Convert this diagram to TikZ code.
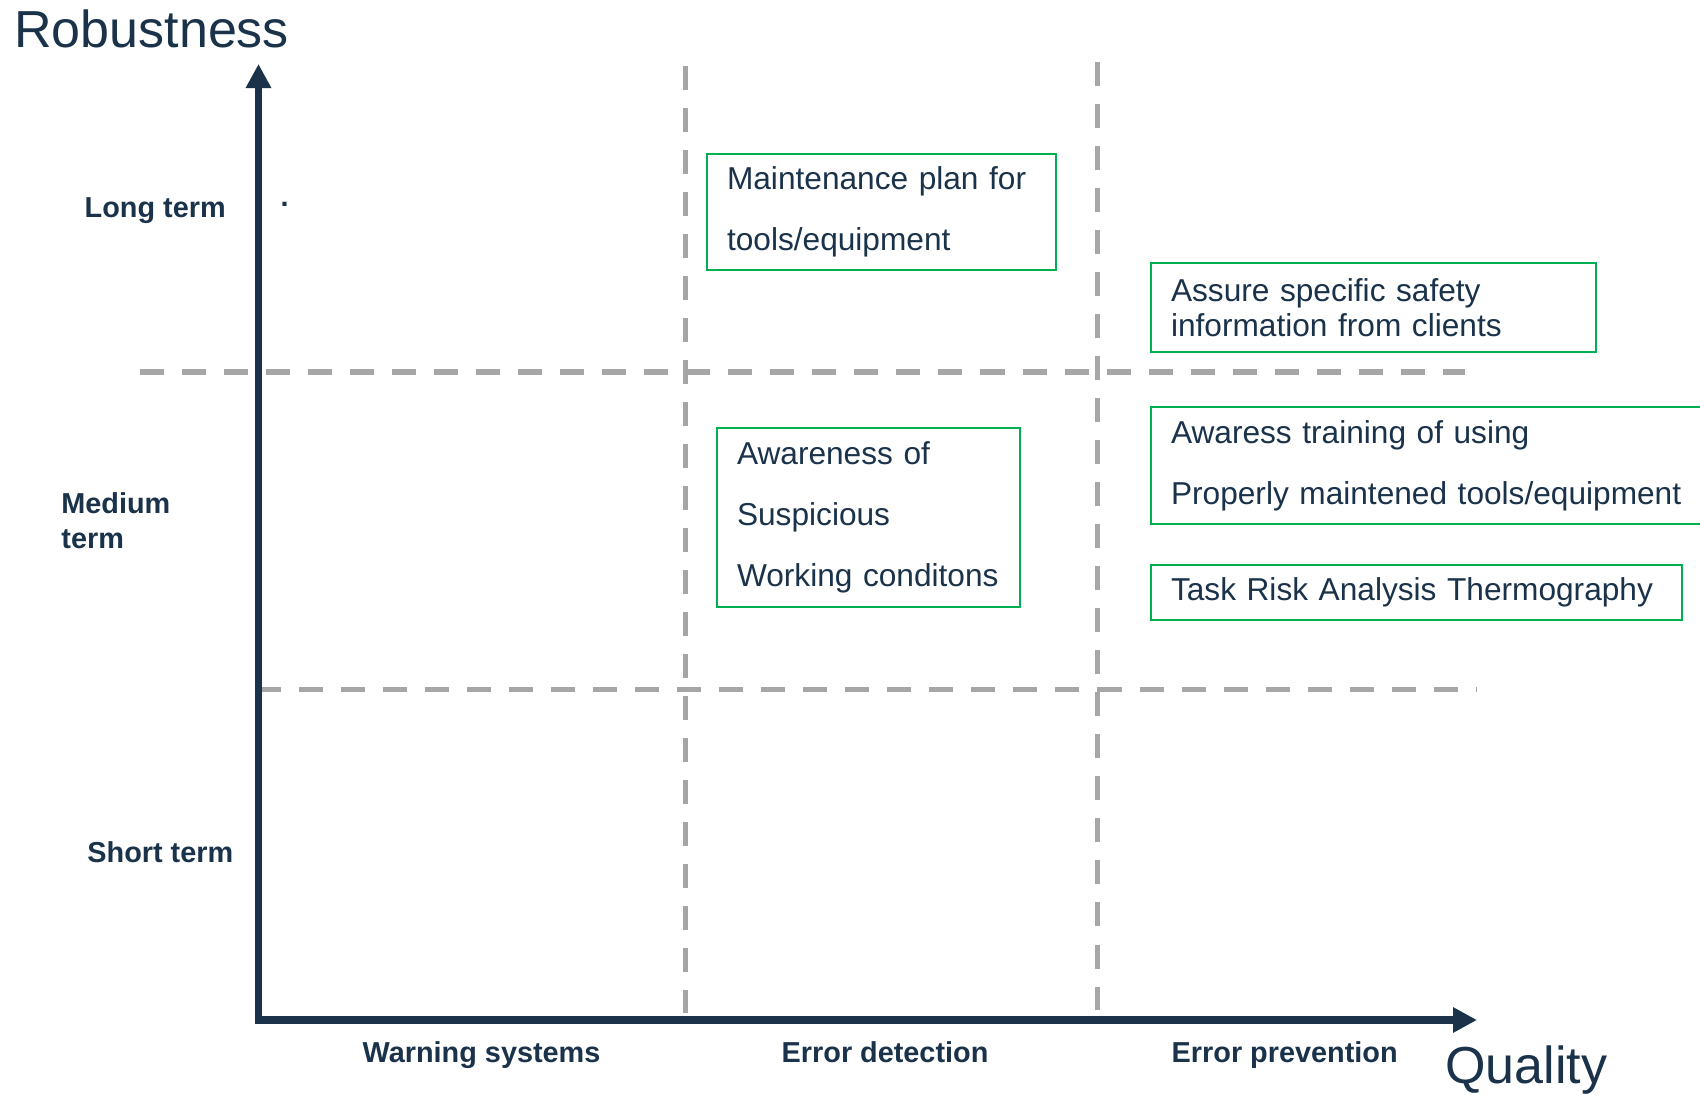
\documentclass[tikz,border=0pt]{standalone}
\usepackage{fontspec}
\setmainfont{Liberation Sans}
\usepackage{tikz}
\usepackage{xcolor}
\usetikzlibrary{arrows.meta, positioning, calc}

\definecolor{navy}{HTML}{1A324A}
\definecolor{boxgreen}{HTML}{00B050}
\definecolor{gridgray}{HTML}{A6A6A6}

\begin{document}
\begin{tikzpicture}[x=0.01cm, y=-0.01cm,
    axis/.style={navy, line width=0.075cm, line join=miter,
        {Triangle[length=0.24cm, width=0.24cm]}-{Triangle[length=0.24cm, width=0.24cm]}},
    gridline/.style={gridgray, line width=0.055cm, dash pattern=on 0.24cm off 0.18cm},
    measure/.style={draw=boxgreen, line width=0.02cm, text=navy, anchor=north west,
        inner xsep=0.2cm, inner ysep=0pt, align=left, font=\fontsize{9}{17.35}\selectfont},
    axistitle/.style={text=navy, anchor=base west, inner sep=0pt, font=\fontsize{14.8}{17}\selectfont},
    catlabel/.style={text=navy, anchor=base west, inner sep=0pt, font=\bfseries\fontsize{8.2}{9.87}\selectfont}]
\useasboundingbox (0,0) rectangle (1700,1095);

% Grid
\draw[gridline] (685.6,65.6) -- (685.6,1013);
\draw[gridline] (1097.7,62) -- (1097.7,1010);
\draw[gridline] (140,372) -- (1465,372);
\draw[gridline] (257,689.5) -- (1477,689.5);

% Axes
\coordinate (ytip) at (258.5,64);
\coordinate (xtip) at (1477,1020);
\draw[axis] (ytip) |- (xtip);

\node[axistitle] (robust) at (13.5,47.4) {Robustness};
\node[axistitle] (quality) at (1444.6,1083.4) {Quality};

% Robustness levels
\node[catlabel] (long) at (84,217.5) {Long term};
\node[catlabel] (dot) at (280,206.5) {.};
\node[catlabel, anchor=west, align=left] (medium) at (60.7,520.8) {Medium\\term};
\node[catlabel] (short) at (86.7,862.4) {Short term};

% Quality levels
\node[catlabel] (warn) at (362,1062) {Warning systems};
\node[catlabel] (detect) at (781,1062) {Error detection};
\node[catlabel] (prevent) at (1171,1062.4) {Error prevention};

% Measures
\node[measure, text width=3.09cm, minimum height=1.16cm] (plan) at (706,153)
    {Maintenance plan for\\tools/equipment};
\node[measure, text width=2.63cm, minimum height=1.79cm] (aware) at (716,427)
    {Awareness of\\Suspicious\\Working conditons};
\node[measure, text width=4.05cm, minimum height=0.89cm, font=\fontsize{9}{9.8}\selectfont] (assure) at (1150,262)
    {Assure specific safety\\information from clients};
\node[measure, text width=5.3cm, minimum height=1.17cm] (train) at (1150,406)
    {Awaress training of using\\Properly maintened tools/equipment};
\node[measure, text width=4.91cm, minimum height=0.55cm] (task) at (1150,564)
    {Task Risk Analysis Thermography};
\end{tikzpicture}
\end{document}
